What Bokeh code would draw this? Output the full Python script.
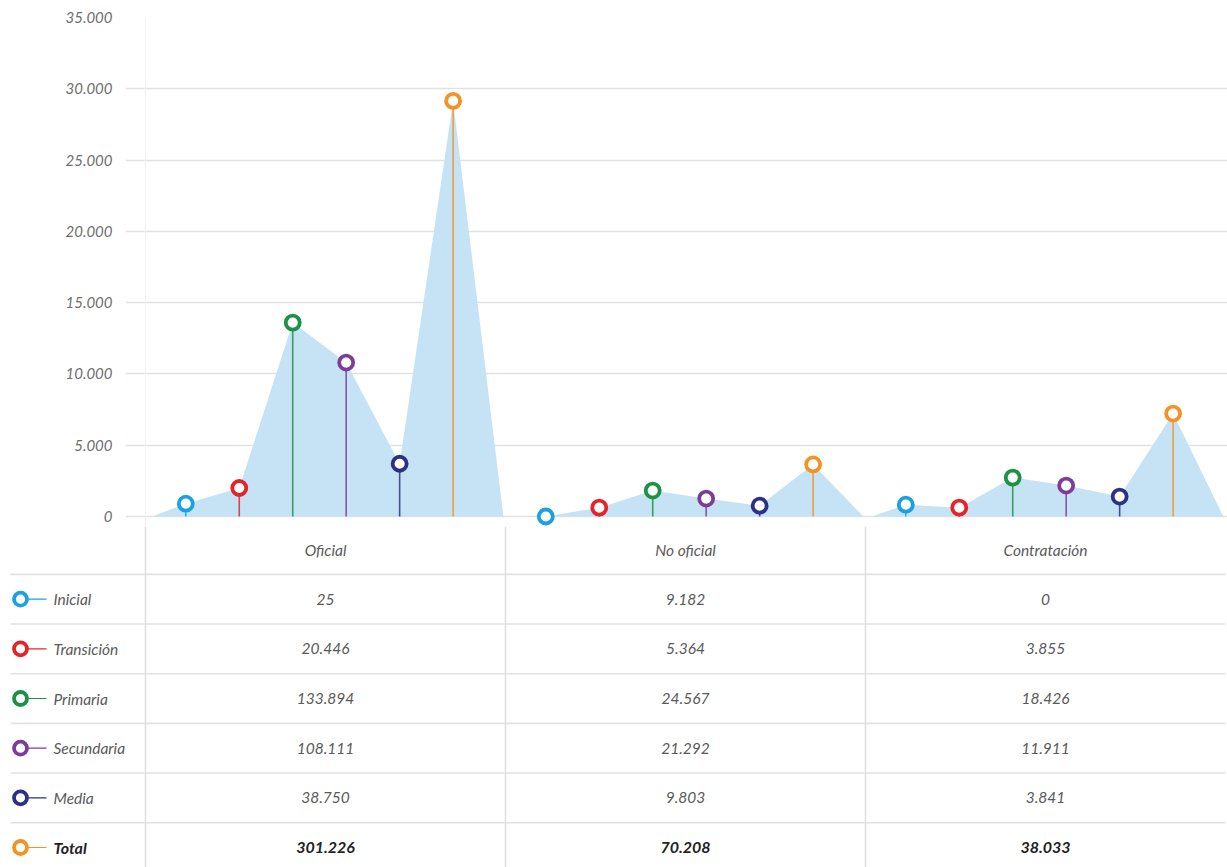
from bokeh.plotting import figure
from bokeh.models import Range1d, FixedTicker
from bokeh.core.properties import value
from bokeh.embed import file_html
from bokeh.resources import INLINE

# ---------------- data ----------------
groups = ["Oficial", "No oficial", "Contratación"]
levels = ["Inicial", "Transición", "Primaria", "Secundaria", "Media", "Total"]
colors = ["#1ba1e2", "#e3242b", "#1c9148", "#7d3c97", "#2c3185", "#f39325"]

# values as drawn in the chart
chart_oficial = [900, 2000, 13600, 10800, 3700, 29150]
chart_no_oficial = [0, 620, 1820, 1260, 760, 3650]
chart_contratacion = [830, 620, 2730, 2170, 1400, 7220]

# values in the table
table_oficial = ["25", "20.446", "133.894", "108.111", "38.750", "301.226"]
table_no_oficial = ["9.182", "5.364", "24.567", "21.292", "9.803", "70.208"]
table_contratacion = ["0", "3.855", "18.426", "11.911", "3.841", "38.033"]

y_ticks = [0, 5000, 10000, 15000, 20000, 25000, 30000, 35000]
y_tick_labels = ["0", "5.000", "10.000", "15.000", "20.000", "25.000", "30.000", "35.000"]

chart_values = [chart_oficial, chart_no_oficial, chart_contratacion]
table_values = [table_oficial, table_no_oficial, table_contratacion]

# ---------------- layout ----------------
W = 1227
GROUP_W = 6.7          # group width in slot units
FIRST = 0.75           # first lollipop offset in a group
STEP = 0.995
AREA_START, AREA_END = 0.12, 6.66
PX_UNIT = 360 / GROUP_W
TOP_H = 526
BOT_H = 867 - TOP_H
TOP_LEFT = 125         # frame starts at page x 125
GAP_LEFT = 20          # px between frame left and first group
X_END = 3 * GROUP_W + 2 / PX_UNIT

FONT = "Lato"
GREY = "#5a5a5a"
AREA = "#c6e3f5"
LINE = "#e2e2e2"
TXT = "15.5px"

# ---------------- top chart ----------------
p = figure(width=W, height=TOP_H, output_backend="svg", toolbar_location=None,
           x_range=Range1d(-GAP_LEFT / PX_UNIT, X_END),
           y_range=Range1d(-701, 35000),
           min_border_left=TOP_LEFT, min_border_right=0, min_border_top=17,
           min_border_bottom=0)
p.outline_line_color = None
p.xaxis.visible = False
p.xgrid.grid_line_color = None
p.ygrid.grid_line_color = LINE
p.ygrid.grid_line_width = 1.5
p.yaxis.ticker = FixedTicker(ticks=y_ticks)
p.ygrid.ticker = FixedTicker(ticks=y_ticks)
p.yaxis.major_label_overrides = {t: l for t, l in zip(y_ticks, y_tick_labels)}
p.yaxis.axis_line_color = None
p.yaxis.major_tick_line_color = None
p.yaxis.minor_tick_line_color = None
p.yaxis.major_tick_out = 0
p.yaxis.minor_tick_out = 0
p.yaxis.major_label_standoff = 13
p.yaxis.major_label_text_font = FONT
p.yaxis.major_label_text_font_style = "italic"
p.yaxis.major_label_text_font_size = "15px"
p.yaxis.major_label_text_color = "#6e6e6e"

# faint divider at first group start
p.segment(x0=[0], y0=[-701], x1=[0], y1=[35000], line_color="#f2f2f2", line_width=1)

xs_area, ys_area = [], []
for g, vals in enumerate(chart_values):
    base = g * GROUP_W
    xs = [base + AREA_START] + [base + FIRST + k * STEP for k in range(len(vals))] + [base + AREA_END]
    ys = [0] + list(vals) + [0]
    xs_area.append(xs)
    ys_area.append(ys)
p.patches(xs_area, ys_area, fill_color=AREA, line_color=None, fill_alpha=1.0)

for g, vals in enumerate(chart_values):
    base = g * GROUP_W
    xk = [base + FIRST + k * STEP for k in range(len(vals))]
    p.segment(x0=xk, y0=[0] * len(vals), x1=xk, y1=vals, line_color=colors,
              line_width=1.6, line_alpha=0.85)
    p.scatter(xk, vals, size=14, fill_color="white", line_color=colors, line_width=3.8)

# ---------------- table ----------------
ROW0 = 549 - TOP_H      # px from table top to header center
ROW_H = 49.67
r_top = -ROW0 / ROW_H
r_bot = r_top + BOT_H / ROW_H
t = figure(width=W, height=BOT_H, output_backend="svg", toolbar_location=None,
           x_range=Range1d(-(GAP_LEFT + TOP_LEFT) / PX_UNIT, X_END),
           y_range=Range1d(r_bot, r_top),
           min_border_left=0, min_border_right=0, min_border_top=0, min_border_bottom=0)
t.outline_line_color = None
t.axis.visible = False
t.grid.grid_line_color = None

x_left = t.x_range.start + 10 / PX_UNIT
x_right = 3 * GROUP_W
row_lines = [k + 0.5 for k in range(len(levels))]
t.segment(x0=[x_left] * len(row_lines), y0=row_lines, x1=[x_right] * len(row_lines), y1=row_lines,
          line_color=LINE, line_width=1.6)
vx = [g * GROUP_W for g in range(len(groups))]
t.segment(x0=vx, y0=[r_top] * len(vx), x1=vx, y1=[r_bot] * len(vx),
          line_color="#dcdcdc", line_width=1.4)

centers = [g * GROUP_W + GROUP_W / 2 for g in range(len(groups))]
t.text(centers, [0] * len(groups), text=groups, text_align="center", text_baseline="middle",
       text_font=value(FONT), text_font_style="italic", text_font_size=TXT, text_color=GREY)

rows = list(range(1, len(levels) + 1))
for g in range(len(groups)):
    t.text([centers[g]] * (len(levels) - 1), rows[:-1], text=table_values[g][:-1],
           text_align="center", text_baseline="middle", text_font=value(FONT),
           text_font_style="italic", text_font_size=TXT, text_color=GREY)
    t.text([centers[g]], [rows[-1]], text=[table_values[g][-1]],
           text_align="center", text_baseline="middle", text_font=value(FONT),
           text_font_style="bold italic", text_font_size="16px", text_color="#222222")

# legend column
mx = t.x_range.start + 20 / PX_UNIT
lx0 = t.x_range.start + 27 / PX_UNIT
lx1 = t.x_range.start + 46 / PX_UNIT
tx = t.x_range.start + 53 / PX_UNIT
t.segment(x0=[lx0] * len(levels), y0=rows, x1=[lx1] * len(levels), y1=rows,
          line_color=colors, line_width=1.2)
t.scatter([mx] * len(levels), rows, size=13, fill_color="white", line_color=colors, line_width=3.8)
t.text([tx] * (len(levels) - 1), rows[:-1], text=levels[:-1], text_align="left",
       text_baseline="middle", text_font=value(FONT), text_font_style="italic",
       text_font_size=TXT, text_color=GREY)
t.text([tx], [rows[-1]], text=[levels[-1]], text_align="left",
       text_baseline="middle", text_font=value(FONT), text_font_style="bold italic",
       text_font_size="16px", text_color="#222222")

open("out.html", "w").write(file_html([p, t], INLINE))
